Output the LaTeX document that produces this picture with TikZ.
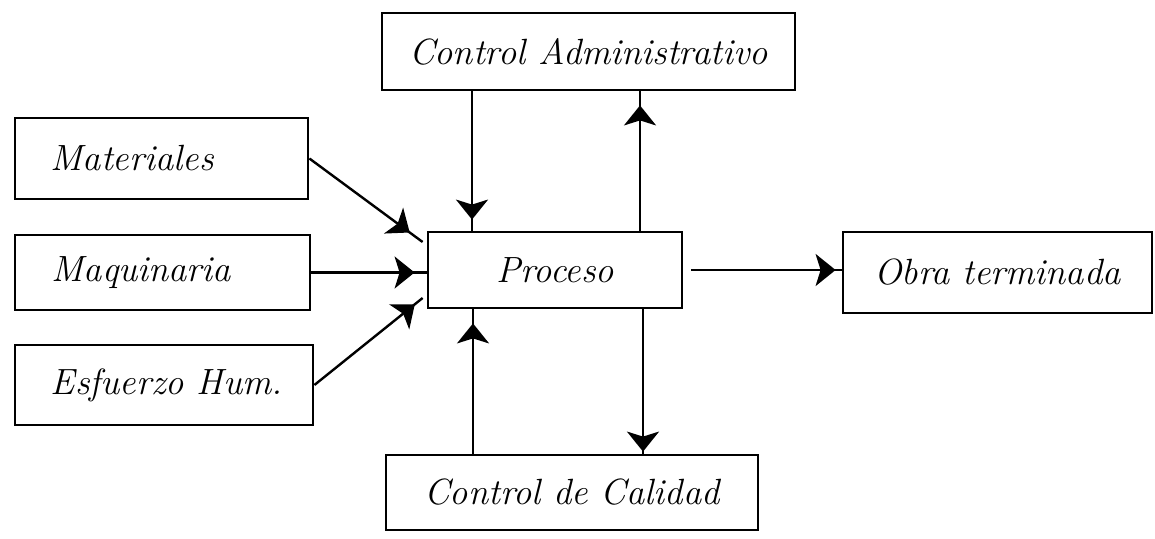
\documentclass[tikz,border=0pt]{standalone}
\usetikzlibrary{arrows.meta,decorations.markings,calc}
\begin{document}
\begin{tikzpicture}[x=1pt,y=-1pt,
  box/.style={draw, line width=2.8pt, inner sep=0pt},
  lbl/.style={font=\fontsize{36.5}{42}\selectfont\itshape, inner sep=0pt},
  conn/.style={line width=2.4pt},
  tipat/.style={decoration={markings,
      mark=at position #1 with {\arrow{Stealth[length=20pt,width=32pt,inset=5pt]}}},
    postaction={decorate}}]
  \useasboundingbox (0,0) rectangle (1155,538);

  % control and process boxes
  \node[box, minimum width=413pt, minimum height=77pt] (ca) at (588.5,51.5) {};
  \node[lbl] at (ca) {Control Administrativo};
  \node[box, minimum width=254pt, minimum height=76pt] (proc) at (555,270) {};
  \node[lbl] at (proc) {Proceso};
  \node[box, minimum width=372pt, minimum height=75pt] (cc) at (572,492.5) {};
  \node[lbl] at (cc) {Control de Calidad};
  \node[box, minimum width=309pt, minimum height=81pt] (obra) at (997.5,272.5) {};
  \node[lbl] at (obra) {Obra terminada};

  % input boxes, text set flush left
  \node[box, minimum width=293pt, minimum height=81pt] (mat) at (161.5,158.5) {};
  \node[lbl, anchor=west] at ([xshift=37pt]mat.west) {Materiales};
  \node[box, minimum width=295pt, minimum height=75pt] (maq) at (162.5,272.5) {};
  \node[lbl, anchor=west] at ([xshift=38pt]maq.west) {Maquinaria};
  \node[box, minimum width=298pt, minimum height=80pt] (esf) at (164,385) {};
  \node[lbl, anchor=west] at ([xshift=37pt]esf.west) {Esfuerzo Hum.};

  % inputs into the process
  \draw[conn, tipat=-16pt] (mat.east) -- ([yshift=28pt, xshift=-4pt]proc.west);
  \draw[conn, tipat=-12pt] (maq.east) -- (proc.west |- maq.east);
  \draw[conn, tipat=-10pt] (esf.east) -- ([yshift=-28pt, xshift=-4pt]proc.west);

  % administrative control loop
  \draw[conn, tipat=-11pt] ([xshift=-83pt]proc.north |- ca.south) -- ([xshift=-83pt]proc.north);
  \draw[conn, tipat=-14pt] ([xshift=85pt]proc.north) -- ([xshift=85pt]proc.north |- ca.south);

  % quality control loop
  \draw[conn, tipat=-14pt] ([xshift=-82pt]proc.south |- cc.north) -- ([xshift=-82pt]proc.south);
  \draw[conn, tipat=-2pt] ([xshift=88pt]proc.south) -- ([xshift=88pt]proc.south |- cc.north);

  % output
  \draw[conn, tipat=-6pt] ([xshift=8pt]proc.east) -- (proc.east -| obra.west);
\end{tikzpicture}
\end{document}
